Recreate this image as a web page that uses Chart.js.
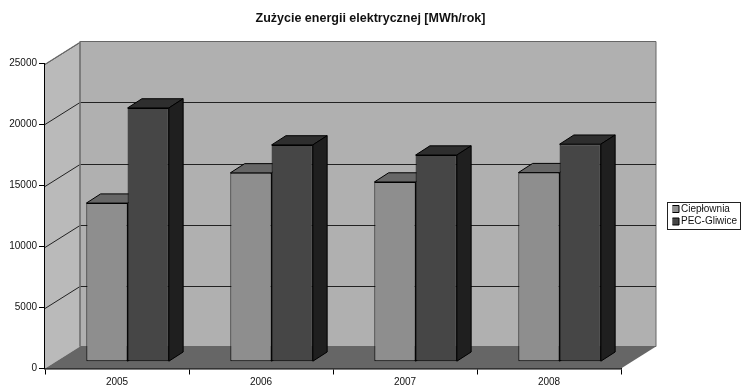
<!DOCTYPE html>
<html>
<head>
<meta charset="utf-8">
<style>
html, body { margin: 0; padding: 0; background: #fff; }
canvas { display: block; }
</style>
<script src="https://cdn.jsdelivr.net/npm/chart.js@4/dist/chart.umd.min.js"></script>
</head>
<body>
<canvas id="chart" width="741" height="386"></canvas>
<script>
var years = ["2005", "2006", "2007", "2008"];
var cieplownia = [13000, 15480, 14730, 15500];
var pec = [20800, 17770, 16940, 17830];
var yTicks = [0, 5000, 10000, 15000, 20000, 25000];

// depth of the fake 3D box, and how far the bars sit inside it
var wallDx = 35, wallDy = 22;
var barDx = 10.6, barDy = 6.8;
var sideDx = 14.3, sideDy = 9.2;

var fontName = "'Liberation Sans', Arial, sans-serif";

function poly(ctx, pts, fill, stroke, lw) {
    ctx.beginPath();
    ctx.moveTo(pts[0][0], pts[0][1]);
    for (var i = 1; i < pts.length; i++) ctx.lineTo(pts[i][0], pts[i][1]);
    ctx.closePath();
    if (fill) { ctx.fillStyle = fill; ctx.fill(); }
    if (stroke) { ctx.strokeStyle = stroke; ctx.lineWidth = lw; ctx.stroke(); }
}

var topColors = ["#666666", "#2e2e2e"];
var sideColors = ["#5a5a5a", "#1f1f1f"];

var box3d = {
    id: "box3d",
    afterLayout: function (chart) {
        // title and legend live outside the plot box here
        var t = chart.titleBlock;
        t.left = 0; t.right = 741;
        var l = chart.legend;
        l.left = 672.5; l.top = 201.5; l.height = 40;
        l.right = l.left + l.width; l.bottom = l.top + l.height;
    },
    beforeDatasetsDraw: function (chart) {
        var ctx = chart.ctx, a = chart.chartArea, y = chart.scales.y;
        var L = a.left, R = a.right, T = a.top, B = a.bottom;
        ctx.save();
        // side wall, back wall, floor
        poly(ctx, [[L, T], [L + wallDx, T - wallDy], [L + wallDx, B - wallDy], [L, B]], "#bababa", null);
        poly(ctx, [[L + wallDx, T - wallDy], [R + wallDx, T - wallDy], [R + wallDx, B - wallDy], [L + wallDx, B - wallDy]], "#b0b0b0", "#666666", 1);
        poly(ctx, [[L, B], [R, B], [R + wallDx, B - wallDy], [L + wallDx, B - wallDy]], "#666666", null);
        yTicks.forEach(function (v) {
            var py = Math.round(y.getPixelForValue(v)) + 0.5;
            if (v > 0 && v < 25000) {
                ctx.beginPath();
                ctx.moveTo(L, py);
                ctx.lineTo(L + wallDx, py - wallDy);
                ctx.lineTo(R + wallDx, py - wallDy);
                ctx.strokeStyle = "#222222";
                ctx.lineWidth = 1;
                ctx.stroke();
            } else if (v == 25000) {
                poly(ctx, [[L, py], [L + wallDx, py - wallDy]], null, "#666666", 1);
            }
        });
        poly(ctx, [[L + wallDx, T - wallDy], [L + wallDx, B - wallDy]], null, "#777777", 1.5);
        ctx.restore();

        // everything the bars draw is pushed back into the box
        ctx.save();
        ctx.translate(barDx, -barDy);
        [0, 1].forEach(function (d) {
            chart.getDatasetMeta(d).data.forEach(function (bar) {
                var x0 = bar.x - bar.width / 2, x1 = bar.x + bar.width / 2;
                poly(ctx, [[x0, bar.y], [x0 + sideDx, bar.y - sideDy], [x1 + sideDx, bar.y - sideDy], [x1, bar.y]], topColors[d], "#000000", 1);
                poly(ctx, [[x1, bar.y], [x1 + sideDx, bar.y - sideDy], [x1 + sideDx, bar.base - sideDy], [x1, bar.base]], sideColors[d], "#000000", 1);
            });
        });
    },
    afterDatasetsDraw: function (chart) {
        chart.ctx.restore();
    },
    afterDraw: function (chart) {
        var ctx = chart.ctx, l = chart.legend;
        ctx.save();
        ctx.strokeStyle = "#222222";
        ctx.lineWidth = 1;
        ctx.strokeRect(667.5, Math.round(l.top) + 0.5, 73, 27);
        ctx.restore();
    }
};

new Chart(document.getElementById("chart"), {
    type: "bar",
    data: {
        labels: years,
        datasets: [
            { label: "Ciepłownia", data: cieplownia, backgroundColor: "#8e8e8e", borderColor: "#000000", borderWidth: 1, borderSkipped: false },
            { label: "PEC-Gliwice", data: pec, backgroundColor: "#464646", borderColor: "#000000", borderWidth: 1, borderSkipped: false }
        ]
    },
    plugins: [box3d],
    options: {
        responsive: false,
        animation: false,
        categoryPercentage: 0.573,
        barPercentage: 1,
        layout: { padding: { left: 0, top: 0, right: 120, bottom: 0 } },
        plugins: {
            title: {
                display: true,
                text: "Zużycie energii elektrycznej [MWh/rok]",
                color: "#111111",
                font: { family: fontName, size: 12.5, weight: "bold" },
                padding: { top: 11, bottom: 37.5 }
            },
            legend: {
                position: "chartArea",
                align: "start",
                labels: {
                    usePointStyle: true,
                    pointStyle: "rect",
                    boxWidth: 1,
                    boxHeight: 7,
                    padding: 2.5,
                    color: "#111111",
                    font: { family: fontName, size: 10 }
                }
            },
            tooltip: { enabled: false }
        },
        scales: {
            x: {
                grid: { drawOnChartArea: false, tickLength: 6, color: "#000000", lineWidth: 1 },
                border: { color: "#000000", width: 1.5 },
                ticks: { color: "#111111", padding: 2, maxRotation: 0, font: { family: fontName, size: 10 } },
                afterFit: function (s) { s.height = 17.5; }
            },
            y: {
                min: 0,
                max: 25000,
                grid: { drawOnChartArea: false, tickLength: 6, color: "#000000", lineWidth: 1 },
                border: { color: "#000000", width: 1.5 },
                ticks: {
                    stepSize: 5000,
                    color: "#111111",
                    padding: 2,
                    font: { family: fontName, size: 10 },
                    callback: function (v) { return String(v); }
                },
                afterFit: function (s) { s.width = 45; }
            }
        }
    }
});
</script>
</body>
</html>
